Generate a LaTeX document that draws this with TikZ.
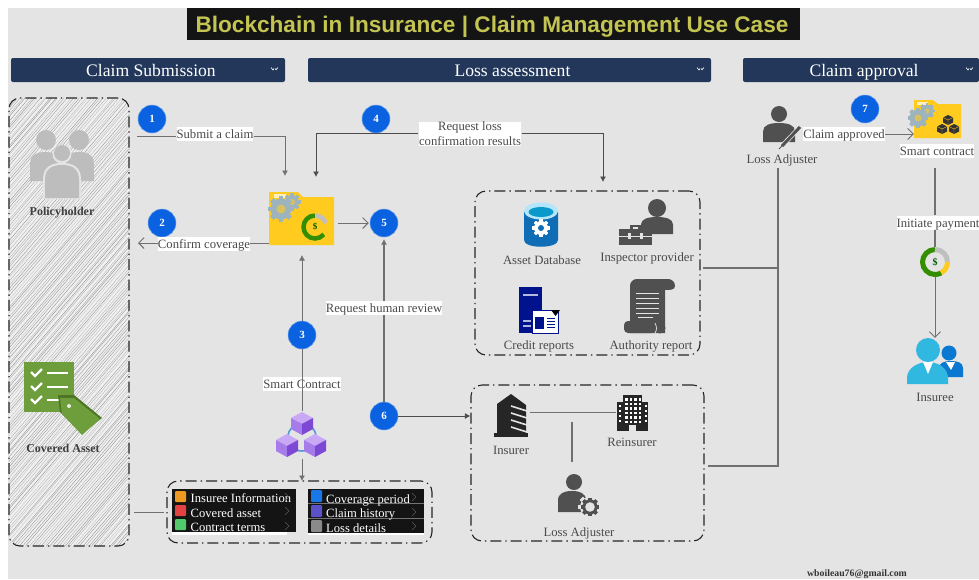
\documentclass[tikz,border=0pt]{standalone}
\usepackage{fontspec}
\setmainfont{Liberation Serif}
\newfontfamily\ttlfont{Liberation Sans}
\usetikzlibrary{arrows.meta,calc}
\definecolor{bgc}{HTML}{E4E4E4}
\definecolor{hdr}{HTML}{22375A}
\definecolor{ttlc}{HTML}{C4C452}
\definecolor{dot}{HTML}{0B62E0}
\definecolor{txt}{HTML}{4A4A4A}
\definecolor{ico}{HTML}{505050}
\definecolor{lin}{HTML}{707070}
\definecolor{fold}{HTML}{FFCB1F}
\definecolor{gearc}{HTML}{9DB4BE}
\definecolor{pan}{HTML}{141414}
\tikzset{
  hdrbox/.style={fill=hdr,rounded corners=2pt,text=white,text height=14pt,text depth=2pt,font=\fontsize{17.6}{20}\selectfont},
  circnum/.style={circle,fill=dot,draw=dot!60!white,line width=.5pt,minimum size=28pt,inner sep=0,text=white,font=\bfseries\fontsize{11}{12}\selectfont},
  lbl/.style={fill=white,text=txt,inner sep=0,text height=11.5pt,text depth=2.5pt,font=\fontsize{12.7}{15}\selectfont,align=center},
  lbltwo/.style={fill=white,text=txt,inner sep=.5pt,font=\fontsize{12.7}{15}\selectfont,align=center},
  captxt/.style={text=txt,inner sep=0,text height=11.5pt,text depth=2.5pt,font=\fontsize{12.7}{15}\selectfont,align=center},
  capb/.style={text=txt!85!black,inner sep=0,text height=11.5pt,text depth=2.5pt,font=\bfseries\fontsize{12}{14}\selectfont},
  groupbox/.style={draw=black!85,line width=1.1pt,rounded corners=11pt,dash pattern=on 11pt off 4pt on 1.4pt off 4pt,inner sep=0},
  conn/.style={draw=lin,line width=.9pt},
  connd/.style={draw=black!70,line width=.9pt},
  tipf/.style={-{Latex[length=5.5pt,width=6pt]}},
  tipo/.style={-{Straight Barb[length=5.5pt,width=11pt,line width=.9pt]}},
  rowtxt/.style={anchor=west,text=white,inner sep=0,text height=11.5pt,text depth=2.5pt,font=\fontsize{12.6}{14}\selectfont},
}
\newcommand{\gearshape}[4]{%
  \foreach \a in {0,45,...,135}{
    \fill[#4,rotate around={\a:(#1,#2)}] (#1-#3*.22,#2-#3*1.22) rectangle (#1+#3*.22,#2+#3*1.22);
    \fill[#4,rotate around={\a:(#1,#2)}] (#1-#3*1.22,#2-#3*.22) rectangle (#1+#3*1.22,#2+#3*.22);
  }
  \fill[#4] (#1,#2) circle (#3);
}
\newcommand{\bodyshape}[6]{%
  \fill[#5] (#1-#3,#2+#4) -- (#1-#3,#2+#4*.45) .. controls (#1-#3,#2+#4*.1) and (#1-#3*.55,#2) .. (#1,#2)
     .. controls (#1+#3*.55,#2) and (#1+#3,#2+#4*.1) .. (#1+#3,#2+#4*.45) -- (#1+#3,#2+#4) -- cycle;
}
\definecolor{cubeA}{HTML}{C9A8F5}
\definecolor{cubeB}{HTML}{A67BEA}
\definecolor{cubeC}{HTML}{7C48D4}
\newcommand{\cube}[2]{%
  \fill[cubeA] (#1,#2-11) -- (#1+11,#2-5) -- (#1,#2+1) -- (#1-11,#2-5) -- cycle;
  \fill[cubeB] (#1-11,#2-5) -- (#1,#2+1) -- (#1,#2+12) -- (#1-11,#2+6) -- cycle;
  \fill[cubeC] (#1+11,#2-5) -- (#1,#2+1) -- (#1,#2+12) -- (#1+11,#2+6) -- cycle;
}
\newcommand{\dcube}[3]{\fill[#3] (#1,#2-5) -- (#1+5,#2-2.5) -- (#1+5,#2+2.5) -- (#1,#2+5) -- (#1-5,#2+2.5) -- (#1-5,#2-2.5) -- cycle;
  \draw[fold,line width=.4pt] (#1-5,#2-2.5) -- (#1,#2) -- (#1+5,#2-2.5) (#1,#2) -- (#1,#2+5);}
\newcommand{\chev}[2]{\draw[white,line width=.6pt] (#1-3,#2-1.5) -- (#1-1,#2+1) -- (#1,#2-.5) (#1+1,#2-.5) -- (#1+2,#2+.7) -- (#1+4,#2-1.5);}
\begin{document}
\begin{tikzpicture}[x=1pt,y=-1pt]
\useasboundingbox (0,0) rectangle (979,579);
\fill[white] (0,0) rectangle (979,579);
\fill[bgc] (8,8) rectangle (979,579);
% title
\node[fill=pan,text=ttlc,minimum width=613pt,minimum height=32pt,inner sep=0,text height=21pt,text depth=5pt,font=\ttlfont\bfseries\fontsize{22.6}{26}\selectfont] (title) at (493.5,24) {\hspace{-3pt}Blockchain in Insurance | Claim Management Use Case};
% headers
\node[hdrbox,minimum width=274pt,minimum height=24pt,inner sep=0] (h1) at (148,70) {\hspace{6pt}Claim Submission};
\node[hdrbox,minimum width=403pt,minimum height=24pt,inner sep=0] (h2) at (509.5,70) {\hspace{6pt}Loss assessment};
\node[hdrbox,minimum width=236pt,minimum height=24pt,inner sep=0] (h3) at (861,70) {\hspace{6pt}Claim approval};
\chev{274}{69}\chev{700}{69}\chev{969}{69}
% hatched left panel
\begin{scope}
\clip[rounded corners=11pt] (9,98) rectangle (129,546);
\fill[white!45!bgc] (9,98) rectangle (129,546);
\pgfmathsetseed{7}
\foreach \i in {1,...,200}{
  \pgfmathsetmacro{\p}{-470+\i*3+rnd*1.6}
  \pgfmathsetmacro{\g}{22+rnd*26}
  \draw[black!\g,line width=.35pt] (\p,560) -- (\p+480,0);
}
\end{scope}
\node[groupbox,minimum width=120pt,minimum height=448pt] (leftpanel) at (69,322) {};
% groups
\node[groupbox,minimum width=225pt,minimum height=164pt] (gdata) at (587.5,273) {};
\node[groupbox,minimum width=233pt,minimum height=156pt] (gins) at (587.5,463) {};
\node[groupbox,minimum width=265pt,minimum height=62pt] (gcontract) at (299.5,512) {};
% ---- policyholder icon
\definecolor{pgray}{HTML}{BDBDBD}
\fill[pgray] (46,140) circle (10); \fill[pgray] (79,140) circle (10);
\bodyshape{45}{152}{15}{29}{pgray}{}
\bodyshape{79}{152}{15}{29}{pgray}{}
\fill[bgc] (62,154) circle (9.5);
\bodyshape{62}{163}{19}{36}{bgc}{}
\fill[pgray] (62,153) circle (8);
\bodyshape{62}{165}{17}{33}{pgray}{}
\node[capb] (lpol) at (62,211) {Policyholder};
% ---- covered asset icon
\definecolor{agreen}{HTML}{6E9E3C}\definecolor{tagg}{HTML}{5A8A2C}
\fill[agreen] (24,362) rectangle (74,412);
\foreach \yy in {372,386,399}{
  \draw[white,line width=2.3pt] (31,\yy) -- (35,\yy+4) -- (42,\yy-3);
  \draw[white,line width=2.4pt] (47,\yy+1) -- (68,\yy+1);
}
\fill[tagg!85!black] (58,395) -- (74,395) -- (102,418) -- (82,433) -- (60,412) -- cycle;
\fill[agreen] (60,398) -- (74,398) -- (100,419) -- (82,435) -- (62,414) -- cycle;
\fill[white!85!agreen] (69,406) circle (2);
\node[capb] (lcov) at (63,448) {Covered Asset};
% ---- main folder
\node[inner sep=0,minimum width=65pt,minimum height=53pt] (folder) at (301.5,218.5) {};
\fill[fold] (269,192) -- (298,192) -- (303,197) -- (334,197) -- (334,245) -- (269,245) -- cycle;
\fill[white!70!fold] (274,194) rectangle (286,198);
\gearshape{292}{202}{7}{gearc} \fill[fold!60!gearc] (292,202) circle (3);
\gearshape{281}{209}{10.5}{gearc} \fill[fold!60!gearc] (281,209) circle (4.5);
\draw[green!45!black!80!yellow,line width=4.5pt] (315,227) ++(270:11.5) arc[start angle=270,delta angle=-230,radius=11.5];
\draw[black!25,line width=4.5pt] (315,227) ++(272:11.5) arc[start angle=272,delta angle=68,radius=11.5];
\node[text=green!35!black,inner sep=0,font=\bfseries\fontsize{9}{10}\selectfont] (dollar1) at (315,227) {\$};
% circles
\node[circnum] (c1) at (152,119) {1};
\node[circnum] (c2) at (162,223) {2};
\node[circnum] (c3) at (302,335) {3};
\node[circnum] (c4) at (376,119) {4};
\node[circnum] (c5) at (384,223) {5};
\node[circnum] (c6) at (384,416) {6};
\node[circnum] (c7) at (865,109) {7};
% labels
\node[lbl] (lsubmit) at (215,134) {Submit a claim};
\node[lbl] (lconfirm) at (204,244) {Confirm coverage};
\node[lbltwo] (lreq) at (470,134) {Request loss\\confirmation results};
\node[lbl] (lhuman) at (384,308) {Request human review};
\node[lbl] (lsc) at (302,384) {Smart Contract};
\node[lbl] (lappr) at (844,134) {Claim approved};
\node[lbl] (lsc2) at (937,150.5) {Smart contract};
\node[lbl] (lpay) at (938,222.5) {Initiate payment};
% cubes
\node[inner sep=0,minimum width=48pt,minimum height=48pt] (cubes) at (301,435) {};
\draw[cyan!60!blue!70!white,line width=1.6pt] (302,437) circle (14);
\cube{302}{423}\cube{287}{445}\cube{315}{445}
% coordinates
\coordinate (sstart) at (137,136);
\coordinate (sturn) at (285,136);
\coordinate (stip) at (285,176);
\coordinate (ctip) at (138,243);
\coordinate (rtipL) at (316,177);
\coordinate (rturnL) at (316,133);
\coordinate (rturnR) at (603,133);
\coordinate (rtipR) at (603,182);
\coordinate (ftop) at (302,255);
\coordinate (boxtop) at (302,481);
\coordinate (sixtop) at (384,239);
\coordinate (conL) at (134,512);
\coordinate (conR) at (164,512);
\coordinate (dataout) at (703,268);
\coordinate (insout) at (708,466);
\coordinate (bus) at (778,268);
\coordinate (bustop) at (778,168);
\coordinate (busbot) at (778,466);
% connectors
\draw[conn] (sstart) -- (sstart -| lsubmit.west);
\draw[conn,tipf] (sturn -| lsubmit.east) -- (sturn) -- (stip);
\draw[conn] (folder.west |- ctip) -- (lconfirm.east |- ctip);
\draw[conn,tipo] (lconfirm.west |- ctip) -- (ctip);
\draw[connd,tipf] (rturnL -| lreq.west) -- (rturnL) -- (rtipL);
\draw[connd,tipf] (rturnR -| lreq.east) -- (rturnR) -- (rtipR);
\draw[conn,tipo] ($(folder.east)+(4,4.5)$) -- ($(c5.west)+(-1,0)$);
\draw[conn,tipf] (c3.north) -- (ftop);
\draw[conn] (c3.south) -- (cubes.north -| c3.south);
\draw[conn,tipf] (cubes.south -| c3) -- (boxtop);
\draw[conn,line width=1.1pt] (c6.north) -- (lhuman.south -| c6);
\draw[conn,line width=1.1pt,tipf] (lhuman.north -| c6) -- (sixtop);
\draw[connd,tipf] (c6.east) -- (gins.west |- c6);
\draw[conn] (conL) -- (conR);
\draw[conn,line width=1.1pt] (dataout) -- (bus);
\draw[conn,line width=1.1pt] (insout) -- (busbot) -- (bustop);
% loss adjuster top
\fill[ico] (779,114) circle (8);
\bodyshape{779}{123}{16}{19}{ico}{}
\draw[bgc,line width=4.5pt] (802,125) -- (779,149);
\draw[ico,line width=3pt] (800,127) -- (782,146);
\draw[ico,line width=1pt] (782,146) -- (779,149);
\node[captxt] (lla1) at (782,159) {Loss Adjuster};
% smart contract folder top-right
\node[inner sep=0,minimum width=47pt,minimum height=38pt] (folder2) at (937.5,119) {};
\fill[fold] (914,100) -- (933,100) -- (938,104) -- (961,104) -- (961,138) -- (914,138) -- cycle;
\fill[white!70!fold] (917,102) rectangle (928,105);
\gearshape{927}{111}{6.5}{gearc}\fill[fold!60!gearc] (927,111) circle (2.5);
\gearshape{918}{118}{8.5}{gearc}\fill[fold!60!gearc] (918,118) circle (3.5);
\dcube{948}{120}{black!80}\dcube{942}{129}{black!80}\dcube{954}{129}{black!80}
% payment coin
\node[circle,inner sep=0,minimum size=30pt] (coin) at (935,262) {};
\draw[green!45!black!80!yellow,line width=5pt] (coin.center) ++(270:12.5) arc[start angle=270,delta angle=-210,radius=12.5];
\draw[black!25,line width=5pt] (coin.center) ++(270:12.5) arc[start angle=270,delta angle=90,radius=12.5];
\draw[fold,line width=5pt] (coin.center) ++(0:12.5) arc[start angle=0,delta angle=60,radius=12.5];
\node[text=green!35!black,inner sep=0,font=\bfseries\fontsize{10}{10}\selectfont] (dollar2) at (coin.center) {\$};
% insuree
\node[inner sep=0,minimum width=56pt,minimum height=44pt] (insuree) at (935,360) {};
\definecolor{cy}{HTML}{30B8E0}
\definecolor{cyd}{HTML}{0A78D0}
\fill[cyd] (949,353) circle (7.5);
\bodyshape{951}{361}{12}{16}{cyd}{}
\fill[white] (946,362) -- (955,362) -- (951,370) -- cycle;
\fill[cy] (928,350) circle (12);
\fill[cy] (907,384) -- (907,378) .. controls (907,368) and (918,362) .. (928,362) .. controls (938,362) and (948,368) .. (948,378) -- (948,384) -- cycle;
\fill[white] (923,362) -- (933,362) -- (928,374) -- cycle;
\node[captxt] (linsuree) at (935,397) {Insuree};
% connectors right side
\coordinate (sc2out) at (935,168);
\draw[conn,line width=1.1pt] (sc2out) -- (lpay.north -| sc2out);
\draw[conn,line width=1.1pt] (lpay.south -| sc2out) -- (coin.north);
\draw[conn,tipo] (coin.south) -- (insuree.north);
\draw[conn,tipo] (lappr.east) -- (folder2.west |- lappr);
% asset database
\definecolor{dbb}{HTML}{0F6DB5}
\fill[dbb] (524,212) -- (524,240) .. controls (524,249) and (558,249) .. (558,240) -- (558,212) -- cycle;
\fill[cyan!30!white] (541,211) ellipse (17 and 8.5);
\fill[dbb!70!cyan] (541,212) ellipse (12.5 and 5);
\gearshape{541}{228}{7}{white}\fill[dbb] (541,228) circle (3);
\node[captxt] (ldb) at (542,260) {Asset Database};
% inspector
\fill[ico] (657,208) circle (9);
\bodyshape{657}{217}{16}{17}{ico}{}
\fill[ico] (630,225) rectangle (641,229);\fill[bgc] (633,227) rectangle (638,230);
\fill[ico] (619,229) rectangle (652,245);
\draw[bgc,line width=.7pt] (619,236) -- (652,236);
\fill[bgc] (628,233) rectangle (631,239); \fill[bgc] (640,233) rectangle (643,239);
\node[captxt] (lins) at (647,257) {Inspector provider};
% credit
\definecolor{navytwo}{HTML}{00128C}
\fill[navytwo] (519,287) rectangle (542,333);
\fill[white!70!navytwo] (523,294) rectangle (538,296);
\fill[white!70!navytwo] (523,320) rectangle (531,322);\fill[white!70!navytwo] (523,325) rectangle (531,327);
\fill[white] (532,310) rectangle (558,334);
\draw[navytwo,line width=.8pt] (532,310) rectangle (558,333);
\fill[navytwo] (535,317) rectangle (544,329);
\foreach \yy in {318,321,324,327}{\draw[navytwo,line width=.7pt] (547,\yy) -- (555,\yy);}
\fill[black] (551,310) -- (560,310) -- (555.5,316) -- cycle;
\node[captxt] (lcr) at (539,345) {Credit reports};
% authority
\fill[ico] (637,279) -- (668,279) .. controls (672,279) and (675,282) .. (675,286) .. controls (675,290) and (670,290) .. (665,290) -- (665,333) -- (630,333) -- (630,286) .. controls (630,282) and (633,279) .. (637,279) -- cycle;
\fill[ico,rounded corners=4pt] (624,321) rectangle (655,333);
\fill[ico] (660,328) circle (5.5);
\draw[bgc,line width=.7pt] (655,323) .. controls (657,327) and (657,330) .. (655,333);
\foreach \yy in {293,298,303,308,313}{\draw[white!85!ico,line width=1pt] (636,\yy) -- (659,\yy);}
\draw[white!85!ico,line width=1pt] (638,317) -- (653,317);
\node[captxt] (lauth) at (651,345) {Authority report};
% insurer
\fill[black!85] (494,433) rectangle (528,437);
\fill[black!85] (497,433) -- (497,404) -- (511,394) -- (526,405) -- (526,433) -- cycle;
\foreach \yy in {403,410,417,424}{\draw[bgc,line width=1.6pt] (511,\yy+3) -- (527,\yy+8);}
\node[captxt] (linsurer) at (511,450) {Insurer};
\node[inner sep=0,minimum width=38pt,minimum height=44pt] (insbox) at (511,416) {};
% reinsurer
\node[inner sep=0,minimum width=32pt,minimum height=36pt] (rein) at (632.5,412.5) {};
\fill[black!85] (623,395) rectangle (642,431);
\fill[black!85] (617,402) rectangle (648,431);
\foreach \xx in {625,629.5,634,638.5}{\foreach \yy in {398,402.5,407,411.5,416,420.5}{\fill[white] (\xx,\yy) rectangle +(2.6,2.6);}}
\foreach \yy in {405,410,415,420}{\fill[white] (618.5,\yy) rectangle +(2.2,2.2);\fill[white] (644.5,\yy) rectangle +(2.2,2.2);}
\fill[bgc] (629,425) rectangle (636,431);
\node[captxt] (lrein) at (632,442) {Reinsurer};
% loss adjuster lower
\fill[ico] (574,482) circle (8);
\bodyshape{572}{491}{14}{21}{ico}{}
\gearshape{590}{507}{10}{bgc}
\gearshape{590}{507}{7.6}{ico}\fill[bgc] (590,507) circle (4.8);
\node[captxt] (lla2) at (579,531.5) {Loss Adjuster};
\coordinate (adjtop) at (572,422);
\coordinate (adjbot) at (572,462);
\draw[conn] (insbox.east |- rein) -- (rein.west);
\draw[conn,line width=1.1pt] (adjtop) -- (adjbot);
% panels
\definecolor{sqo}{HTML}{EE9A22}\definecolor{sqr}{HTML}{E24242}\definecolor{sqg}{HTML}{52C96A}
\definecolor{sqb}{HTML}{1878E8}\definecolor{sqv}{HTML}{5C52C8}\definecolor{sqk}{HTML}{8A8A8A}
\node[fill=pan,inner sep=0,minimum width=124pt,minimum height=43pt] (pL) at (234,510.5) {};
\fill[white] (172,532) rectangle (287,534.5);
\fill[white] (308,533) rectangle (424,535);
\node[fill=pan,inner sep=0,minimum width=116pt,minimum height=44pt] (pR) at (366,511) {};
\draw[black!55,line width=.8pt] (308,503.5) -- (424,503.5) (308,518.5) -- (424,518.5);
\fill[sqo,rounded corners=1pt] (175,491) rectangle (186,502);
\fill[sqr,rounded corners=1pt] (175,505) rectangle (186,516);
\fill[sqg,rounded corners=1pt] (175,519) rectangle (186,530);
\fill[sqb,rounded corners=1pt] (311,490) rectangle (322,502);
\fill[sqv,rounded corners=1pt] (311,505) rectangle (322,517);
\fill[sqk,rounded corners=1pt] (311,520) rectangle (322,532);
\node[rowtxt] (r1) at (190.5,498) {Insuree Information};
\node[rowtxt] (r2) at (190.5,512.5) {Covered asset};
\node[rowtxt] (r3) at (190.5,527) {Contract terms};
\node[rowtxt] (r4) at (326,498.5) {Coverage period};
\node[rowtxt] (r5) at (326,513) {Claim history};
\node[rowtxt] (r6) at (326,528) {Loss details};
\foreach \xx/\yy in {287/497,287/511,287/526,414/497,414/512,414/526}{
  \draw[white!35!black,line width=.5pt] (\xx-2,\yy-4) -- (\xx+2,\yy) -- (\xx-2,\yy+4);}
% email
\node[inner sep=0,text=black!80,font=\bfseries\fontsize{9.8}{10}\selectfont] (mail) at (857,574) {wboileau76@gmail.com};
\end{tikzpicture}
\end{document}
